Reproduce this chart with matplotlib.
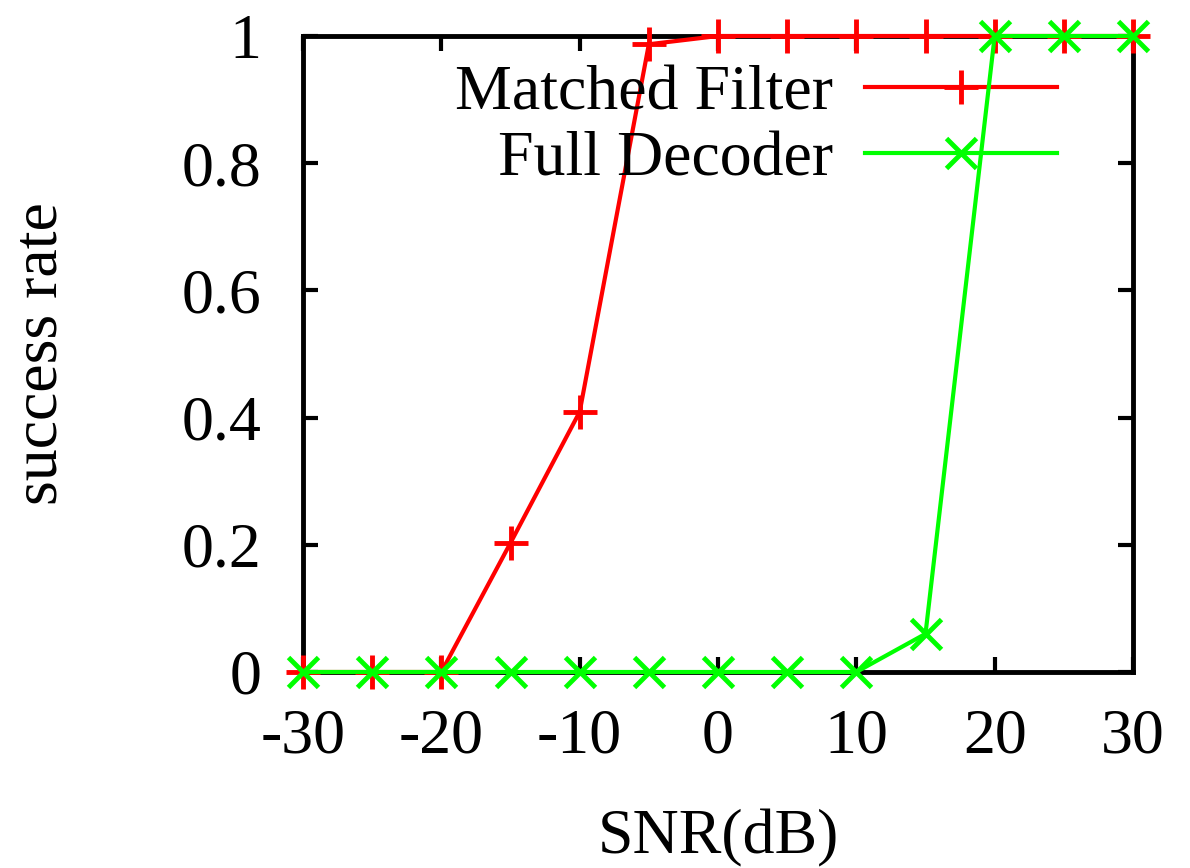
import matplotlib
matplotlib.use("Agg")
import matplotlib.pyplot as plt

snr = [-30, -25, -20, -15, -10, -5, 0, 5, 10, 15, 20, 25, 30]
matched = [0, 0, 0, 0.203, 0.409, 0.987, 1, 1, 1, 1, 1, 1, 1]
full = [0, 0, 0, 0, 0, 0, 0, 0, 0, 0.06, 1, 1, 1]

plt.rcParams["font.family"] = ["Liberation Serif", "DejaVu Serif"]
plt.rcParams["font.size"] = 46
plt.rcParams["axes.unicode_minus"] = False

fig = plt.figure(figsize=(11.9, 8.68), dpi=100)
ax = fig.add_axes([303 / 1190, 196 / 868, 830 / 1190, 636 / 868])

ax.plot(snr, matched, color="#ff0000", lw=3, marker="+", ms=24, mew=3.5,
        clip_on=False, zorder=5, label="Matched Filter")
ax.plot(snr, full, color="#00ff00", lw=3, marker="x", ms=22, mew=3.5,
        clip_on=False, zorder=6, label="Full Decoder")

ax.set_xlim(-30, 30)
ax.set_ylim(0, 1)
ax.set_xticks(range(-30, 31, 10))
ax.set_yticks([0, 0.2, 0.4, 0.6, 0.8, 1])
ax.set_yticklabels(["0", "0.2", "0.4", "0.6", "0.8", "1"])
ax.tick_params(direction="in", length=11, width=3, top=True, right=True,
               pad=26)
ax.tick_params(axis="y", pad=30)
for s in ax.spines.values():
    s.set_linewidth(3.5)
    s.set_zorder(4)

ax.set_xlabel("SNR(dB)", labelpad=31)
ax.set_ylabel("success rate", labelpad=80)

ax.legend(loc="upper right", bbox_to_anchor=(0.908, 0.955), frameon=False,
          markerfirst=False, handlelength=3.0, handletextpad=0.5,
          labelspacing=0.11, borderaxespad=0, borderpad=0)

fig.savefig("out.png", dpi=100)
